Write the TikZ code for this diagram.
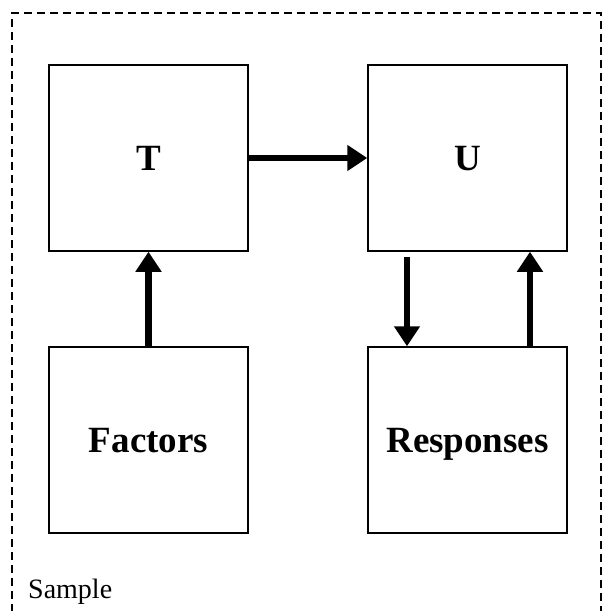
\documentclass[tikz,border=0pt]{standalone}
\usepackage{fontspec}
\setmainfont{Liberation Serif}
\usetikzlibrary{arrows.meta}
\begin{document}
\begin{tikzpicture}[x=1pt,y=-1pt,
  box/.style={draw,line width=1.5pt,minimum width=199pt,minimum height=186pt,inner sep=0pt,text height=24pt,text depth=0pt,font=\bfseries\fontsize{37}{40}\selectfont},
  conn/.style={line width=6.5pt,-{Triangle[width=25pt,length=20pt]}}]
\useasboundingbox (0,0) rectangle (602,611);
\draw[line width=1.5pt,dash pattern=on 8pt off 5pt] (12,625) -- (12,13) -- (601,13) -- (601,625);
\node[box] (T) at (148.5,158) {T};
\node[box] (U) at (467.5,158) {U};
\node[box] (F) at (148.5,440) {Factors};
\node[box] (R) at (467.5,440) {Responses};
\node[anchor=base west,inner sep=0pt,font=\fontsize{28}{30}\selectfont] (S) at (28,598) {Sample};
\draw[conn] (T.east) -- (U.west);
\draw[conn] (F.north) -- (T.south);
\coordinate (d1) at (407,257);
\draw[conn] (d1) -- (d1 |- R.north);
\draw[conn] (R.north -| 530,0) -- (U.south -| 530,0);
\end{tikzpicture}
\end{document}
